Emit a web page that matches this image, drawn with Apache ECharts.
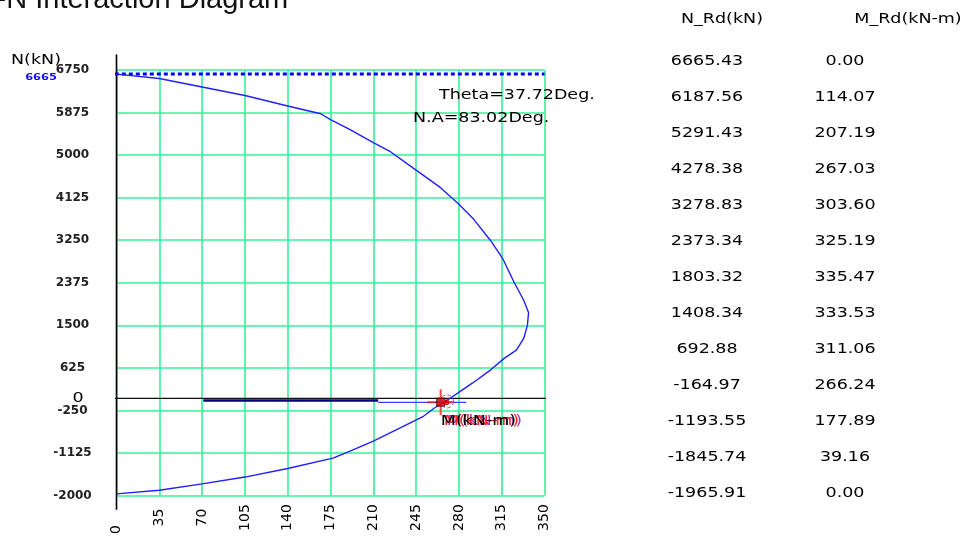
<!DOCTYPE html>
<html><head><meta charset="utf-8">
<script src="https://cdn.jsdelivr.net/npm/echarts@6/dist/echarts.min.js"></script>
<style>html,body{margin:0;padding:0;background:#fff;overflow:hidden}#c{width:967px;height:537px}</style>
</head><body><div id="c"></div>
<script>
// ---------- data ----------
const xTicks = [0, 35, 70, 105, 140, 175, 210, 245, 280, 315, 350];
const yTicks = [-2000, -1125, -250, 625, 1500, 2375, 3250, 4125, 5000, 5875, 6750];
const curveM = [0, 35, 70, 105, 140, 167, 175, 191, 210, 224, 245, 265, 280, 292, 306, 316, 325, 333, 337, 336, 333, 327, 317, 306, 291, 279, 271, 260, 251, 232, 210, 191, 177, 140, 105, 70, 35, 0];
const curveN = [6665, 6575, 6400, 6225, 6010, 5850, 5730, 5525, 5255, 5070, 4690, 4330, 3990, 3685, 3240, 2865, 2390, 2015, 1760, 1500, 1230, 990, 820, 585, 310, 105, -30, -200, -370, -610, -880, -1085, -1230, -1445, -1620, -1760, -1890, -1966];
const nMaxValue = 6665.43;
const nMaxLabel = '6665';
const tableN = ['6665.43', '6187.56', '5291.43', '4278.38', '3278.83', '2373.34', '1803.32', '1408.34', '692.88', '-164.97', '-1193.55', '-1845.74', '-1965.91'];
const tableM = ['0.00', '114.07', '207.19', '267.03', '303.60', '325.19', '335.47', '333.53', '311.06', '266.24', '177.89', '39.16', '0.00'];
const navyM = [71, 214];
const navyN = [-45, -45];
const blueM = [214, 286];
const blueN = [-85, -85];
const loadPoint = [265.1, -80];
const capPoint = [269.8, -80];
const thetaText = 'Theta=37.72Deg.';
const naText = 'N.A=83.02Deg.';
const titleText = 'M-N Interaction Diagram';
const yName = 'N(kN)';
const xName = 'M(kN-m)';
const headN = 'N_Rd(kN)';
const headM = 'M_Rd(kN-m)';

// ---------- chart ----------
const FONT = 'DejaVu Sans';
const GREEN = '#34f296';
const S = 1.25;
const chart = echarts.init(document.getElementById('c'), null, {renderer: 'canvas'});
const curve = curveM.map((m, i) => [m, curveN[i]]);
const xMin = xTicks[0], xMax = xTicks[xTicks.length - 1];
const yMin = yTicks[0], yMax = yTicks[yTicks.length - 1];

chart.setOption({
  animation: false,
  backgroundColor: '#ffffff',
  grid: {left: 116.5, right: 422.5, top: 70, bottom: 38},
  xAxis: {
    type: 'value', min: xMin, max: xMax, interval: xTicks[1] - xTicks[0],
    axisLine: {show: false}, axisTick: {show: false},
    splitLine: {show: true, lineStyle: {color: GREEN, width: 1.6}},
    axisLabel: {
      rotate: 90, align: 'center', verticalAlign: 'middle', margin: 22,
      fontFamily: FONT, fontSize: 14, color: '#000',
      formatter: v => v === 0 ? '{z|0}' : String(v),
      rich: {z: {padding: [0, 24, 0, 0], fontFamily: FONT, fontSize: 14, color: '#000'}}
    }
  },
  yAxis: {
    type: 'value', min: yMin, max: yMax, interval: yTicks[1] - yTicks[0],
    axisLine: {show: false}, axisTick: {show: false},
    splitLine: {show: true, lineStyle: {color: GREEN, width: 1.6}},
    axisLabel: {
      align: 'center', margin: 44, fontFamily: FONT, fontSize: 12, fontWeight: 'bold', color: '#222',
      formatter: v => String(v)
    }
  },
  series: [
    { // vertical axis line (extends past the grid)
      type: 'line', clip: false, silent: true, symbol: 'none', z: 3,
      data: [[xMin, yMax + 320], [xMin, yMin - 290]],
      lineStyle: {color: '#000', width: 1.6}
    },
    { // N = 0 line
      type: 'line', clip: false, silent: true, symbol: 'none', z: 3,
      data: [[xMin - 14, 0], [xMax + 11, 0]],
      lineStyle: {color: '#111', width: 1.2}
    },
    { // max axial load dotted line
      type: 'line', clip: false, silent: true, symbol: 'none', z: 4,
      data: [[xMin - 30, nMaxValue], [xMax, nMaxValue]],
      lineStyle: {color: '#0000ff', width: 3, type: [4, 3]}
    },
    { // navy horizontal
      type: 'line', silent: true, symbol: 'none', z: 5,
      data: navyM.map((m, i) => [m, navyN[i]]),
      lineStyle: {color: '#000080', width: 2.5}
    },
    { // light blue horizontal
      type: 'line', silent: true, symbol: 'none', z: 5,
      data: blueM.map((m, i) => [m, blueN[i]]),
      lineStyle: {color: '#3344ff', width: 1.2}
    },
    { // interaction curve
      type: 'line', silent: true, symbol: 'none', z: 6,
      data: curve,
      lineStyle: {color: '#2020ff', width: 1.4}
    },
    { // red crosshair at load point
      type: 'scatter', silent: true, z: 7,
      symbol: 'path://M12,0L14,0L14,26L12,26Z M0,12L26,12L26,14L0,14Z',
      symbolSize: [27, 26],
      itemStyle: {color: '#ff1a1a'},
      data: [loadPoint]
    },
    { // load point square
      type: 'scatter', silent: true, z: 8, symbol: 'rect', symbolSize: 8,
      itemStyle: {color: '#d00000', borderColor: '#220000', borderWidth: 1},
      data: [loadPoint]
    },
    { // capacity point
      type: 'scatter', silent: true, z: 8, symbol: 'circle', symbolSize: 6,
      itemStyle: {color: '#e00000'},
      data: [capPoint]
    },
    { // purple dashed ring
      type: 'scatter', silent: true, z: 9, symbol: 'circle', symbolSize: 13,
      itemStyle: {color: 'rgba(0,0,0,0)', borderColor: '#9933aa', borderWidth: 1, borderType: 'dashed'},
      data: [[capPoint[0] + 0.5, capPoint[1] + 15]]
    }
  ]
});

// ---------- text overlays ----------
const px = p => chart.convertToPixel({gridIndex: 0}, p);
function txt(text, x, y, o) {
  o = o || {};
  return {
    type: 'text', x: x, y: y, scaleX: o.scale == null ? S : o.scale, z: 100,
    style: {
      text: text, fill: o.color || '#000', fontFamily: o.family || FONT,
      fontSize: o.size || 14, fontWeight: o.weight || 'normal',
      align: o.align || 'center', verticalAlign: 'middle'
    }
  };
}
const g = [];
g.push(txt(titleText, -27.6, 0, {family: 'Liberation Sans', size: 29, align: 'left', scale: 1, color: '#111'}));
g.push(txt(yName, 36, 60));
const zeroPx = px([xMin, 0]);
g.push(txt('0', 78, zeroPx[1]));
const nmPx = px([xMin, nMaxValue]);
g.push(txt(nMaxLabel, 41, nmPx[1] + 3, {color: '#1010ff', size: 9.5, weight: 'bold', scale: 1.2}));
g.push(txt(thetaText, 439, 95, {align: 'left'}));
g.push(txt(naText, 413, 118, {align: 'left'}));
g.push(txt(headN, 722, 19));
g.push(txt(headM, 908, 19));
tableN.forEach((t, i) => g.push(txt(t, 707, 61 + i * 36)));
tableM.forEach((t, i) => g.push(txt(t, 845, 61 + i * 36)));
const lp = px(loadPoint);
g.push(txt(xName, lp[0] + 6, lp[1] + 19, {align: 'left', color: '#a040b0'}));
g.push(txt(xName, lp[0] + 3, lp[1] + 19, {align: 'left', color: '#ff2020'}));
g.push(txt(xName, lp[0], lp[1] + 19, {align: 'left', color: '#000'}));
chart.setOption({graphic: g});
</script>
</body></html>
